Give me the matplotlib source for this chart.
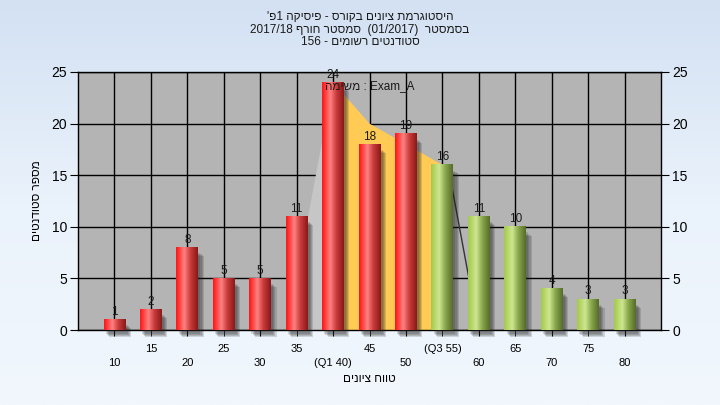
import matplotlib
matplotlib.use('Agg')
import matplotlib.pyplot as plt
import numpy as np
from matplotlib.colors import LinearSegmentedColormap
from matplotlib.patches import Rectangle, Polygon

plt.rcParams['font.family'] = ['Liberation Sans', 'DejaVu Sans']

# grade ranges and number of students
grades = ['10', '15', '20', '25', '30', '35', '(Q1 40)', '45', '50',
          '(Q3 55)', '60', '65', '70', '75', '80']
counts = [1, 2, 8, 5, 5, 11, 24, 18, 19, 16, 11, 10, 4, 3, 3]
passed = [False] * 9 + [True] * 6

# quartile band (Q1..Q3) drawn behind the bars
band_idx = [6, 7, 8, 9]
band_vals = [24, 20, 18, 16]
band_slope = 19.0

# Hebrew text, written in visual (left-to-right) order
title_lines = ["'פ1 הקיסיפ - סרוקב םינויצ תמרגוטסיה",
               "2017/18 ףרוח רטסמס  (01/2017)  רטסמסב",
               "156 - םימושר םיטנדוטס"]
ylab = "םיטנדוטס רפסמ"
xlab = "םינויצ חווט"
exam_label = "המישמ : Exam_A"

fig = plt.figure(figsize=(7.2, 4.05), dpi=100)

# background gradient
bg = fig.add_axes([0, 0, 1, 1], zorder=-10)
bg.imshow(np.linspace(0, 1, 256).reshape(-1, 1), aspect='auto',
          cmap=LinearSegmentedColormap.from_list('bg', ['#d3e1f3', '#eaf2fb', '#f1f7fd']),
          extent=[0, 1, 0, 1])
bg.axis('off')

ax = fig.add_axes([78 / 720, 1 - 330 / 405, 583 / 720, 258 / 405])
ax.set_facecolor('#b4b4b4')

red = LinearSegmentedColormap.from_list('red', [(0, '#ff1414'), (0.12, '#ff3535'),
                                               (0.38, '#ff8282'), (0.65, '#cc3c3c'),
                                               (1, '#881818')])
green = LinearSegmentedColormap.from_list('green', [(0, '#a4c850'), (0.12, '#b0d35e'),
                                                   (0.38, '#cde692'), (0.65, '#8aa84c'),
                                                   (1, '#546c2a')])
grad = np.linspace(0, 1, 200).reshape(1, -1)

x = np.arange(len(counts))
w = 0.6

# band area
bx = np.array(band_idx, dtype=float)
bv = np.array(band_vals, dtype=float)
area = list(zip(bx, bv)) + [(bx[-1], 0), (bx[0], 0)]
ax.add_patch(Polygon(area, closed=True, facecolor='#ffcb55', edgecolor='none', zorder=2))
left_face = [(bx[0] - bv[0] / band_slope, 0), (bx[0], bv[0]), (bx[0], 0)]
ax.add_patch(Polygon(left_face, closed=True, facecolor='#c6c6c6', edgecolor='none', zorder=2))
ax.plot([bx[-1] + 0.15, bx[-1] + 0.15 + bv[-1] / band_slope], [bv[-1], 0],
        color='#333333', lw=1, zorder=2)

for xi, v, ok in zip(x, counts, passed):
    x0 = xi - w / 2
    # soft shadow
    for k in range(4):
        ax.add_patch(Rectangle((x0 + 0.06 + 0.03 * k, -0.35 - 0.1 * k), w, v - 0.2,
                               facecolor='#202020', alpha=0.16, edgecolor='none',
                               zorder=3, clip_on=False))
    ax.imshow(grad, extent=[x0, x0 + w, 0, v], aspect='auto',
              cmap=green if ok else red, zorder=4, interpolation='bilinear')
    ax.text(xi, v + 0.15, str(v), ha='center', va='bottom', fontsize=8.5,
            color='#1a1a1a', zorder=6)

ax.text(0.5, 0.946, exam_label, transform=ax.transAxes, ha='center', va='center',
        fontsize=8.5, color='#1a1a1a', zorder=6)

ax.set_xlim(-1, len(counts))
ax.set_ylim(0, 25)
ax.set_yticks(range(0, 26, 5))
ax.grid(True, color='black', lw=1, zorder=1)
ax.set_axisbelow(True)

even = x[::2]
odd = x[1::2]
ax.set_xticks(even, [grades[i] for i in even])
ax.set_xticks(odd, [grades[i] for i in odd], minor=True)
ax.tick_params(axis='x', which='major', length=4, pad=16, labelsize=8)
ax.tick_params(axis='x', which='minor', length=4, pad=6, labelsize=8)
ax.tick_params(axis='y', length=6, pad=2, labelsize=10, right=True, labelright=True)
ax.grid(True, which='minor', axis='x', color='black', lw=1)
for s in ax.spines.values():
    s.set_color('black')
    s.set_linewidth(1)

ax.set_xlabel(xlab, fontsize=8.5, labelpad=4)
ax.set_ylabel(ylab, fontsize=8.5, labelpad=6)

for i, line in enumerate(title_lines):
    fig.text(0.5, 1 - (17 + 12.5 * i) / 405, line, ha='center', va='center',
             fontsize=8.5, color='#1a1a1a')

fig.savefig('out.png', dpi=100)
